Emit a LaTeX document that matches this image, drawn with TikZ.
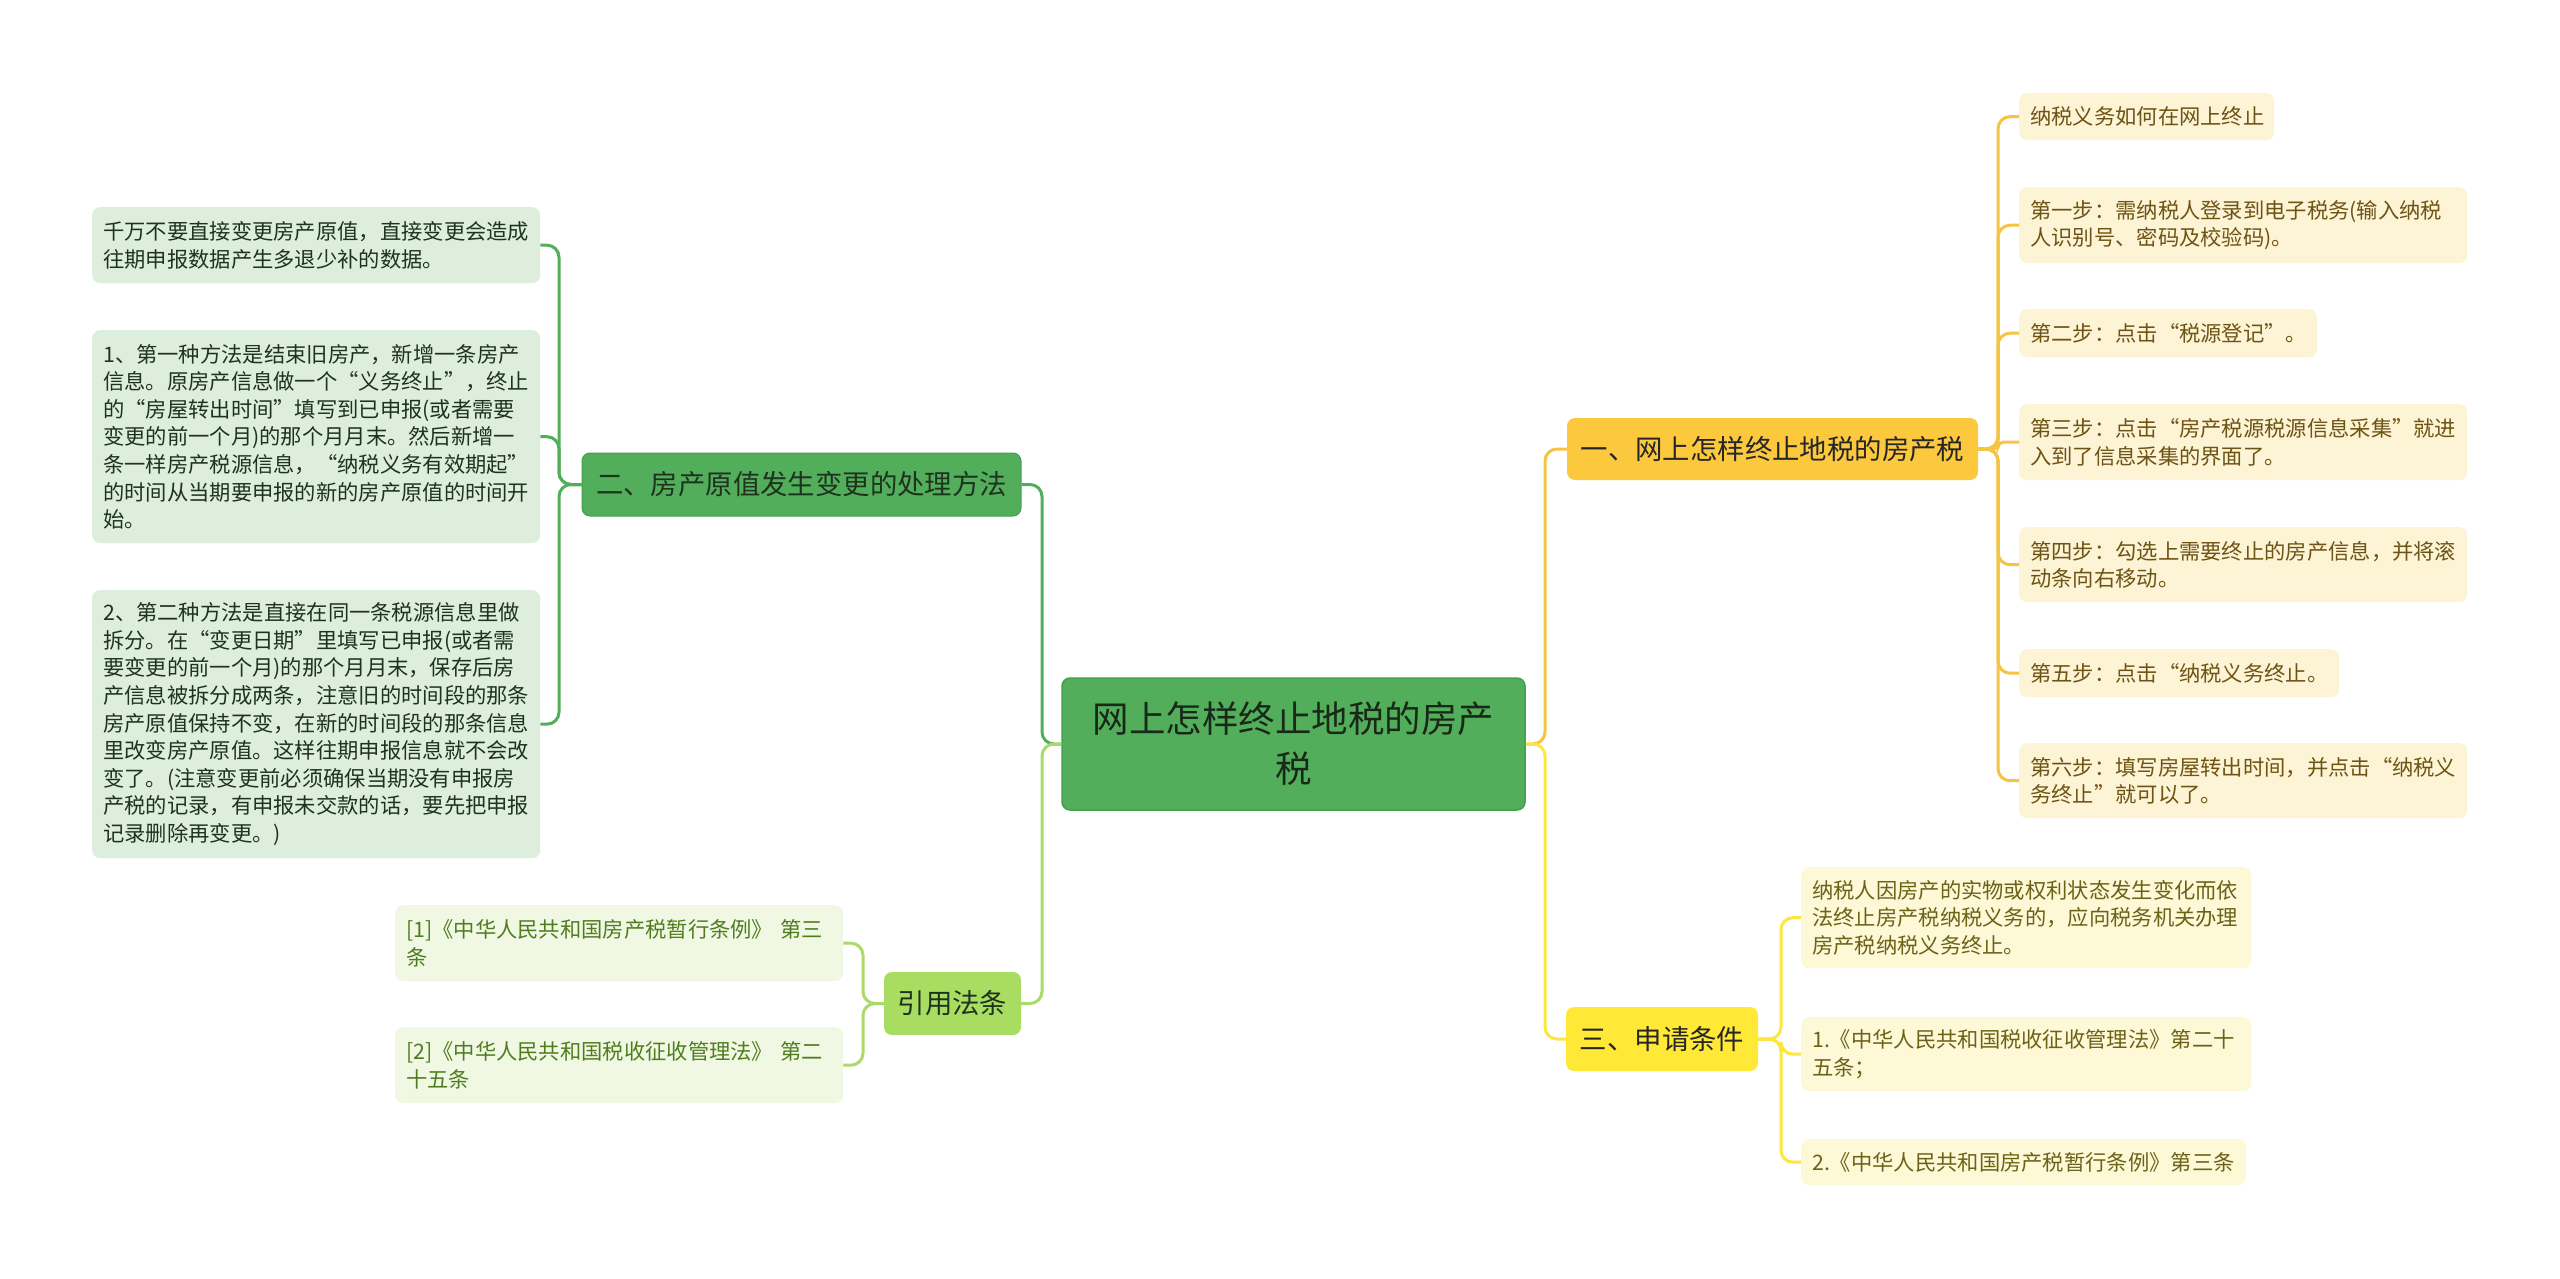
\documentclass[tikz,border=0pt]{standalone}
\usepackage{fontspec}
\setmainfont{Noto Sans CJK SC}
\definecolor{cgreen}{HTML}{53AE5B}
\definecolor{cgreenb}{HTML}{45A04D}
\definecolor{cgleaf}{HTML}{DDEFDC}
\definecolor{cgtext}{HTML}{1E331E}
\definecolor{clime}{HTML}{A9DD62}
\definecolor{climeline}{HTML}{AADB6A}
\definecolor{climeleaf}{HTML}{F0F8E4}
\definecolor{climetext}{HTML}{4F7D1E}
\definecolor{cgold}{HTML}{FCC93E}
\definecolor{cgoldline}{HTML}{F5C443}
\definecolor{cgoldleaf}{HTML}{FDF3D5}
\definecolor{cgoldtext}{HTML}{6E5414}
\definecolor{cyel}{HTML}{FFE936}
\definecolor{cyelline}{HTML}{FCE640}
\definecolor{cyelleaf}{HTML}{FDF9D6}
\definecolor{cyeltext}{HTML}{6B6218}
\begin{document}
\begin{tikzpicture}[x=1pt,y=-1pt,
  leafbox/.style={rounded corners=8pt, inner xsep=11pt, inner ysep=0pt, anchor=north west, align=left,
     font=\fontsize{21.3}{27.6}\selectfont},
  gleaf/.style={leafbox, fill=cgleaf, text=cgtext},
  lleaf/.style={leafbox, fill=climeleaf, text=climetext},
  oleaf/.style={leafbox, fill=cgoldleaf, text=cgoldtext},
  yleaf/.style={leafbox, fill=cyelleaf, text=cyeltext},
  branch/.style={rounded corners=8pt, inner sep=0pt, align=center, font=\fontsize{27.4}{34}\selectfont},
  conn/.style={line width=3pt, rounded corners=12pt},
]
\useasboundingbox (0,0) rectangle (2560,1279);
\fill[white] (0,0) rectangle (2560,1279);

% central
\node[rounded corners=8pt, fill=cgreen, draw=cgreenb, line width=1.5pt, inner sep=0pt,
  minimum width=463pt, minimum height=132pt, align=center, text=cgtext!80!black,
  font=\fontsize{36.5}{50}\selectfont] (c) at (1293.5,744) {网上怎样终止地税的房产\\税};

% branches
\node[branch, fill=cgreen, draw=cgreenb, line width=1pt, text=cgtext, minimum width=439pt, minimum height=63pt] (n2) at (801.5,484.5) {二、房产原值发生变更的处理方法};
\node[branch, fill=clime, text=cgtext, minimum width=137pt, minimum height=63pt] (nr) at (952.5,1003.5) {引用法条};
\node[branch, fill=cgold, text=black!85, minimum width=411pt, minimum height=62pt] (n1) at (1772.5,449) {一、网上怎样终止地税的房产税};
\node[branch, fill=cyel, text=black!85, minimum width=192pt, minimum height=64pt] (n3) at (1662,1039) {三、申请条件};

% left green leaves
\node[gleaf, minimum width=448pt, text width=426pt, minimum height=76pt] (l1) at (92,207)
 {千万不要直接变更房产原值，直接变更会造成\\往期申报数据产生多退少补的数据。};
\node[gleaf, minimum width=448pt, text width=426pt, minimum height=213pt] (l2) at (92,330)
 {1、第一种方法是结束旧房产，新增一条房产\\信息。原房产信息做一个“义务终止”，终止\\的“房屋转出时间”填写到已申报(或者需要\\变更的前一个月)的那个月月末。然后新增一\\条一样房产税源信息，“纳税义务有效期起”\\的时间从当期要申报的新的房产原值的时间开\\始。};
\node[gleaf, minimum width=448pt, text width=426pt, minimum height=268pt] (l3) at (92,590)
 {2、第二种方法是直接在同一条税源信息里做\\拆分。在“变更日期”里填写已申报(或者需\\要变更的前一个月)的那个月月末，保存后房\\产信息被拆分成两条，注意旧的时间段的那条\\房产原值保持不变，在新的时间段的那条信息\\里改变房产原值。这样往期申报信息就不会改\\变了。(注意变更前必须确保当期没有申报房\\产税的记录，有申报未交款的话，要先把申报\\记录删除再变更。)};

% citation leaves
\node[lleaf, minimum width=448pt, text width=426pt, minimum height=76pt] (r1) at (395,905)
 {[1]《中华人民共和国房产税暂行条例》 第三\\条};
\node[lleaf, minimum width=448pt, text width=426pt, minimum height=76pt] (r2) at (395,1027)
 {[2]《中华人民共和国税收征收管理法》 第二\\十五条};

% right gold leaves
\node[oleaf, minimum width=255pt, text width=233pt, minimum height=47pt] (o0) at (2019,93)
 {纳税义务如何在网上终止};
\node[oleaf, minimum width=448pt, text width=426pt, minimum height=76pt] (o1) at (2019,187)
 {第一步：需纳税人登录到电子税务(输入纳税\\人识别号、密码及校验码)。};
\node[oleaf, minimum width=298pt, text width=276pt, minimum height=48pt] (o2) at (2019,309)
 {第二步：点击“税源登记”。};
\node[oleaf, minimum width=448pt, text width=426pt, minimum height=76pt] (o3) at (2019,404)
 {第三步：点击“房产税源税源信息采集”就进\\入到了信息采集的界面了。};
\node[oleaf, minimum width=448pt, text width=426pt, minimum height=75pt] (o4) at (2019,527)
 {第四步：勾选上需要终止的房产信息，并将滚\\动条向右移动。};
\node[oleaf, minimum width=320pt, text width=298pt, minimum height=48pt] (o5) at (2019,649)
 {第五步：点击“纳税义务终止。};
\node[oleaf, minimum width=448pt, text width=426pt, minimum height=75pt] (o6) at (2019,743)
 {第六步：填写房屋转出时间，并点击“纳税义\\务终止”就可以了。};

% yellow leaves
\node[yleaf, minimum width=450pt, text width=428pt, minimum height=101pt] (y1) at (1801,867)
 {纳税人因房产的实物或权利状态发生变化而依\\法终止房产税纳税义务的，应向税务机关办理\\房产税纳税义务终止。};
\node[yleaf, minimum width=450pt, text width=428pt, minimum height=74pt] (y2) at (1801,1017)
 {1.《中华人民共和国税收征收管理法》第二十\\五条；};
\node[yleaf, minimum width=445pt, text width=423pt, minimum height=46pt] (y3) at (1801,1139)
 {2.《中华人民共和国房产税暂行条例》第三条};

% junctions
\coordinate (jl) at (1042,744);
\coordinate (jr) at (1545,744);
\coordinate (j2) at (559,484.5);
\coordinate (jc) at (863,1003.5);
\coordinate (j1) at (1998,449);
\coordinate (j3) at (1781,1039);

% connectors central
\draw[conn, cgreen] (n2.east) -| (jl) [sharp corners] -- (c.west);
\draw[conn, climeline] (nr.east) -| (jl) [sharp corners] -- (c.west);
\draw[conn, cgoldline] (n1.west) -| (jr) [sharp corners] -- (c.east);
\draw[conn, cyelline] (n3.west) -| (jr) [sharp corners] -- (c.east);

% left leaves
\foreach \n in {l1,l2,l3} \draw[conn, cgreen] (\n.east) -| (j2) [sharp corners] -- (n2.west);
\foreach \n in {r1,r2} \draw[conn, climeline] (\n.east) -| (jc) [sharp corners] -- (nr.west);
% right leaves
\foreach \n in {o0,o1,o2,o4,o5,o6} \draw[conn, cgoldline] (\n.west) -| (j1) [sharp corners] -- (n1.east);
\draw[conn, cgoldline, rounded corners=5pt] (o3.west) -| (j1) [sharp corners] -- (n1.east);
\foreach \n in {y1,y2,y3} \draw[conn, cyelline] (\n.west) -| (j3) [sharp corners] -- (n3.east);
\end{tikzpicture}
\end{document}
